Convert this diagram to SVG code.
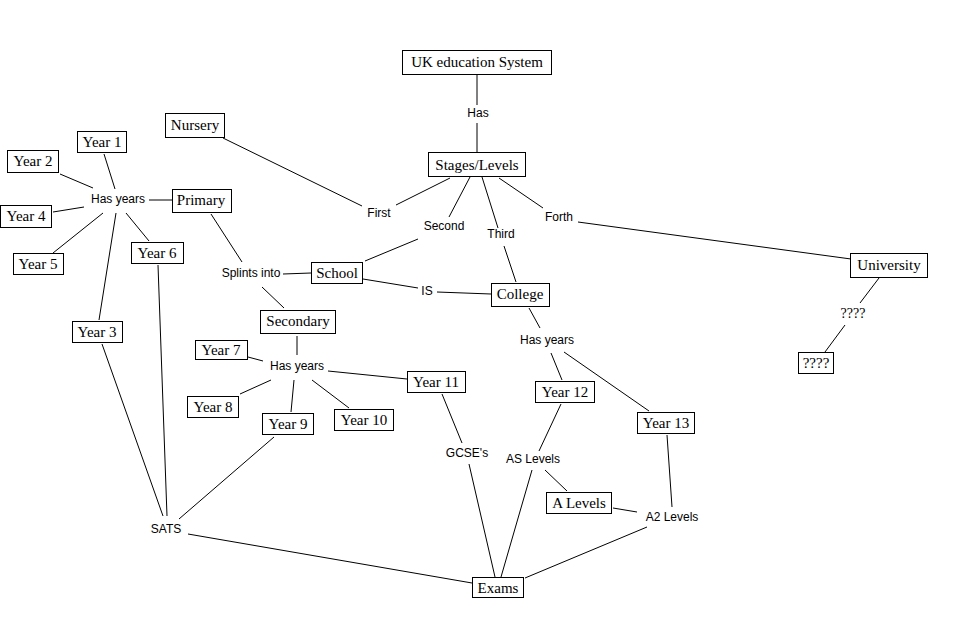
<svg xmlns="http://www.w3.org/2000/svg" width="967" height="638" viewBox="0 0 967 638">
<style>
.bg{fill:#fff}
rect.box{fill:#fff;stroke:#000;stroke-width:1}
text.bt{font-family:"Liberation Serif","Times New Roman",serif;font-size:15px;fill:#000;text-anchor:middle}
text.lt{font-family:"Liberation Sans",Arial,sans-serif;font-size:12px;fill:#000;text-anchor:middle}
text.ls{font-family:"Liberation Serif","Times New Roman",serif;font-size:14px;fill:#000;text-anchor:middle}
#connectors line{stroke:#000;stroke-width:1}
</style>
<rect class="bg" x="0" y="0" width="967" height="638"/>
<g id="connectors">
<line x1="477" y1="75" x2="477" y2="105"/>
<line x1="477" y1="123" x2="477" y2="153"/>
<line x1="450" y1="178" x2="396" y2="205"/>
<line x1="470" y1="177" x2="449" y2="217"/>
<line x1="482" y1="177" x2="498" y2="228"/>
<line x1="499" y1="178" x2="543" y2="208"/>
<line x1="578" y1="222" x2="851" y2="259"/>
<line x1="223" y1="138" x2="362" y2="206"/>
<line x1="418" y1="239" x2="365" y2="261"/>
<line x1="363" y1="279" x2="418" y2="288"/>
<line x1="437" y1="292" x2="491" y2="294"/>
<line x1="504" y1="246" x2="516" y2="282"/>
<line x1="104" y1="154" x2="115" y2="189"/>
<line x1="60" y1="174" x2="93" y2="188"/>
<line x1="53" y1="212" x2="84" y2="207"/>
<line x1="53" y1="253" x2="103" y2="213"/>
<line x1="116" y1="213" x2="99" y2="320"/>
<line x1="126" y1="213" x2="149" y2="241"/>
<line x1="149" y1="200" x2="172" y2="200"/>
<line x1="211" y1="214" x2="242" y2="262"/>
<line x1="283" y1="274" x2="311" y2="273"/>
<line x1="262" y1="287" x2="284" y2="308"/>
<line x1="158" y1="265" x2="167" y2="516"/>
<line x1="102" y1="344" x2="163" y2="516"/>
<line x1="274" y1="437" x2="179" y2="519"/>
<line x1="188" y1="534" x2="472" y2="583"/>
<line x1="297" y1="336" x2="297" y2="355"/>
<line x1="248" y1="357" x2="263" y2="361"/>
<line x1="271" y1="380" x2="240" y2="394"/>
<line x1="294" y1="380" x2="291" y2="412"/>
<line x1="312" y1="380" x2="349" y2="408"/>
<line x1="328" y1="371" x2="407" y2="379"/>
<line x1="442" y1="394" x2="462" y2="443"/>
<line x1="469" y1="464" x2="495" y2="577"/>
<line x1="532" y1="470" x2="501" y2="577"/>
<line x1="647" y1="527" x2="525" y2="578"/>
<line x1="561" y1="404" x2="539" y2="451"/>
<line x1="545" y1="470" x2="567" y2="491"/>
<line x1="613" y1="508" x2="637" y2="512"/>
<line x1="667" y1="435" x2="672" y2="507"/>
<line x1="551" y1="353" x2="562" y2="380"/>
<line x1="564" y1="352" x2="649" y2="411"/>
<line x1="529" y1="308" x2="540" y2="328"/>
<line x1="879" y1="278" x2="860" y2="303"/>
<line x1="845" y1="325" x2="825" y2="352"/>
</g>
<g id="uk"><rect class="box" x="402.5" y="50.5" width="149" height="24"/><text class="bt" x="477" y="67">UK education System</text></g>
<g id="has"><text class="lt" x="478" y="117">Has</text></g>
<g id="stages"><rect class="box" x="428.5" y="152.5" width="97" height="24"/><text class="bt" x="477" y="170">Stages/Levels</text></g>
<g id="first"><text class="lt" x="379" y="217">First</text></g>
<g id="second"><text class="lt" x="444" y="230">Second</text></g>
<g id="third"><text class="lt" x="501" y="238">Third</text></g>
<g id="forth"><text class="lt" x="559" y="221">Forth</text></g>
<g id="nursery"><rect class="box" x="165.5" y="113.5" width="59" height="24"/><text class="bt" x="195" y="130">Nursery</text></g>
<g id="university"><rect class="box" x="850.5" y="253.5" width="77" height="24"/><text class="bt" x="889" y="270">University</text></g>
<g id="q-label"><text class="ls" x="853" y="318">????</text></g>
<g id="q-box"><rect class="box" x="798.5" y="352.5" width="35" height="21"/><text class="bt" x="816" y="368">????</text></g>
<g id="school"><rect class="box" x="311.5" y="262.5" width="51" height="21"/><text class="bt" x="337" y="278">School</text></g>
<g id="is"><text class="lt" x="427" y="295">IS</text></g>
<g id="college"><rect class="box" x="491.5" y="283.5" width="58" height="23"/><text class="bt" x="520" y="299">College</text></g>
<g id="primary"><rect class="box" x="172.5" y="189.5" width="59" height="23"/><text class="bt" x="201" y="205">Primary</text></g>
<g id="hasyears-primary"><text class="lt" x="118" y="203">Has years</text></g>
<g id="year1"><rect class="box" x="77.5" y="131.5" width="49" height="21"/><text class="bt" x="102" y="147">Year 1</text></g>
<g id="year2"><rect class="box" x="7.5" y="150.5" width="51" height="22"/><text class="bt" x="33" y="166">Year 2</text></g>
<g id="year4"><rect class="box" x="0.5" y="205.5" width="51" height="22"/><text class="bt" x="26" y="221">Year 4</text></g>
<g id="year5"><rect class="box" x="13.5" y="253.5" width="50" height="21"/><text class="bt" x="38" y="269">Year 5</text></g>
<g id="year6"><rect class="box" x="131.5" y="242.5" width="52" height="21"/><text class="bt" x="157" y="258">Year 6</text></g>
<g id="year3"><rect class="box" x="72.5" y="321.5" width="50" height="21"/><text class="bt" x="97" y="337">Year 3</text></g>
<g id="splints"><text class="lt" x="251" y="277">Splints into</text></g>
<g id="secondary"><rect class="box" x="260.5" y="310.5" width="75" height="23"/><text class="bt" x="298" y="326">Secondary</text></g>
<g id="hasyears-secondary"><text class="lt" x="297" y="370">Has years</text></g>
<g id="year7"><rect class="box" x="195.5" y="340.5" width="52" height="19"/><text class="bt" x="221" y="355">Year 7</text></g>
<g id="year8"><rect class="box" x="187.5" y="396.5" width="51" height="21"/><text class="bt" x="213" y="412">Year 8</text></g>
<g id="year9"><rect class="box" x="262.5" y="413.5" width="51" height="21"/><text class="bt" x="288" y="429">Year 9</text></g>
<g id="year10"><rect class="box" x="334.5" y="409.5" width="59" height="21"/><text class="bt" x="364" y="425">Year 10</text></g>
<g id="year11"><rect class="box" x="407.5" y="371.5" width="58" height="21"/><text class="bt" x="436" y="387">Year 11</text></g>
<g id="sats"><text class="lt" x="166" y="533">SATS</text></g>
<g id="gcse"><text class="lt" x="467" y="457">GCSE's</text></g>
<g id="hasyears-college"><text class="lt" x="547" y="344">Has years</text></g>
<g id="year12"><rect class="box" x="535.5" y="381.5" width="59" height="21"/><text class="bt" x="565" y="397">Year 12</text></g>
<g id="year13"><rect class="box" x="637.5" y="412.5" width="57" height="21"/><text class="bt" x="666" y="428">Year 13</text></g>
<g id="aslevels"><text class="lt" x="533" y="463">AS Levels</text></g>
<g id="alevels"><rect class="box" x="546.5" y="492.5" width="65" height="21"/><text class="bt" x="579" y="508">A Levels</text></g>
<g id="a2levels"><text class="lt" x="672" y="521">A2 Levels</text></g>
<g id="exams"><rect class="box" x="472.5" y="577.5" width="51" height="20"/><text class="bt" x="498" y="593">Exams</text></g>
</svg>
